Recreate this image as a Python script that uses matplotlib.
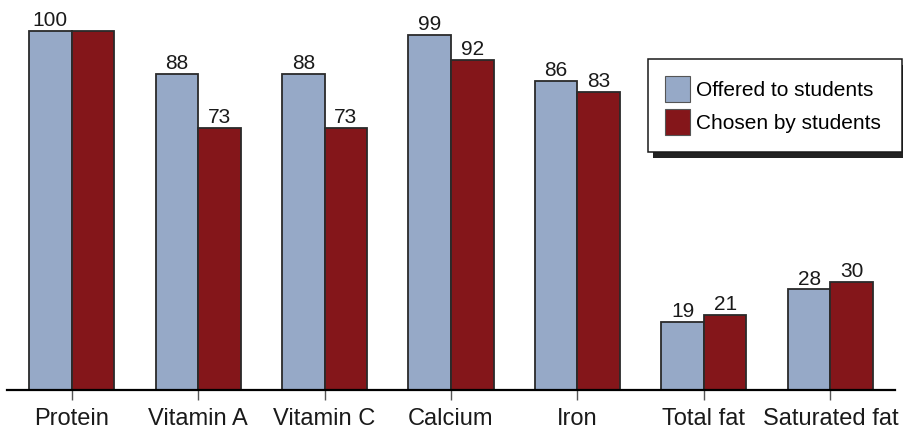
import matplotlib
matplotlib.use("Agg")
import matplotlib.pyplot as plt
import numpy as np
from matplotlib.patches import Rectangle
from matplotlib.transforms import IdentityTransform

nutrients = ["Protein", "Vitamin A", "Vitamin C", "Calcium", "Iron", "Total fat", "Saturated fat"]
offered = [100, 88, 88, 99, 86, 19, 28]
chosen = [100, 73, 73, 92, 83, 21, 30]
series_names = ["Offered to students", "Chosen by students"]
# the source only prints one "100" over the Protein pair
chosen_labels = ["", "73", "73", "92", "83", "21", "30"]

BLUE, RED, EDGE = "#96a9c7", "#84161a", "#2a2a2a"
plt.rcParams["font.family"] = ["Liberation Sans", "DejaVu Sans"]

W, H = 904, 430
fig = plt.figure(figsize=(W / 100, H / 100), dpi=100)
ax = fig.add_axes([7 / W, 40 / H, 888 / W, 377 / H])

x = np.arange(len(nutrients))
bw = 0.336
b1 = ax.bar(x - bw / 2, offered, bw, color=BLUE, edgecolor=EDGE, lw=1.3, label=series_names[0])
b2 = ax.bar(x + bw / 2, chosen, bw, color=RED, edgecolor=EDGE, lw=1.3, label=series_names[1])
for bars, vals, labs in ((b1, offered, [str(v) for v in offered]), (b2, chosen, chosen_labels)):
    for r, v, t in zip(bars, vals, labs):
        if t:
            ax.annotate(t, (r.get_x() + r.get_width() / 2, v), textcoords="offset points",
                        xytext=(0, 3.5), ha="center", va="baseline", fontsize=15, color="#1a1a1a")

ax.set_xlim(-0.51, 6.51); ax.set_ylim(0, 105)
ax.set_xticks(x); ax.set_xticklabels(nutrients, fontsize=17, color="#1a1a1a")
ax.tick_params(axis="x", length=7, width=1, color="#555555", pad=6)
ax.set_yticks([])
for s in ["top", "right", "left"]:
    ax.spines[s].set_visible(False)
ax.spines["bottom"].set_linewidth(1.6); ax.spines["bottom"].set_color("black")

# legend box with hard drop shadow
leg = ax.legend(loc="upper left", bbox_to_anchor=(648 / W, 1 - 151 / H, 254 / W, 92 / H),
                bbox_transform=fig.transFigure, mode="expand", borderaxespad=0,
                fontsize=15, handlelength=1.2, handleheight=1.6, handletextpad=0.3,
                labelspacing=0.3, borderpad=0.8, fancybox=False, frameon=True)
leg.get_frame().set_edgecolor("#1a1a1a"); leg.get_frame().set_linewidth(1.1)
leg.get_frame().set_alpha(1)
for h in leg.legend_handles:
    h.set_edgecolor("#555555"); h.set_linewidth(0.8)

fig.canvas.draw()
bb = leg.get_frame().get_window_extent()
ax.add_patch(Rectangle((bb.x0 + 5, bb.y0 - 6), bb.width, bb.height, transform=IdentityTransform(),
                       facecolor="#222222", edgecolor="none", zorder=4.9, clip_on=False))

fig.savefig("out.png", dpi=100)
